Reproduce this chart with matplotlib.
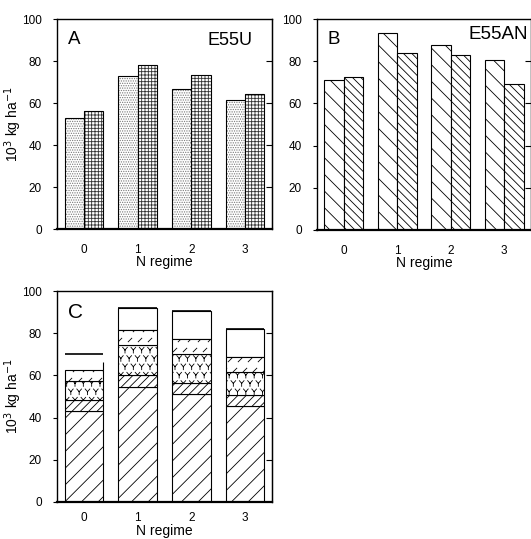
import numpy as np
import matplotlib
matplotlib.use("Agg")
import matplotlib.pyplot as plt
import matplotlib.hatch as mhatch
from matplotlib.path import Path

plt.rcParams['font.family'] = ['Liberation Sans', 'DejaVu Sans']
plt.rcParams['hatch.linewidth'] = 0.6

regimes = ['0', '1', '2', '3']
yticks = [0, 20, 40, 60, 80, 100]

# Panel A (E55U)
a_light = [52.8, 72.9, 66.6, 61.5]
a_dark = [56.3, 78.0, 73.5, 64.2]
# Panel B (E55AN)
b_light = [71.2, 93.2, 87.9, 80.6]
b_dark = [72.3, 83.9, 83.1, 69.4]
# Panel C stacked components (cumulative tops)
c_base = [43.1, 54.5, 51.0, 45.4]
c_dense_top = [48.5, 60.0, 56.6, 50.6]
c_y_top = [57.2, 74.3, 70.0, 61.6]
c_dash_top = [62.7, 81.7, 77.4, 68.7]
c_box_top = [66.4, 92.1, 90.4, 82.2]
c_total = [70.3, 92.1, 90.4, 82.2]


# ---- custom hatch shapes (Y marks and short dashes) ----
class _SegHatch(mhatch.HatchPatternBase):
    char = None
    segs = None
    size = 1.0
    mult = 1.0

    def __init__(self, hatch, density):
        n = int(round(hatch.count(self.char) * density * self.mult / 2.0)) * 2
        self.num_rows = n
        self.positions = []
        if n > 0:
            off = 1.0 / n
            for row in range(n + 1):
                if row % 2 == 0:
                    cols = np.linspace(0, 1, n + 1)
                else:
                    cols = np.linspace(off / 2, 1 - off / 2, n)
                for c in cols:
                    self.positions.append((c, row * off))
        self.num_vertices = len(self.positions) * len(self.segs) * 2

    def set_vertices_and_codes(self, vertices, codes):
        off = 1.0 / self.num_rows
        seg = np.asarray(self.segs, float).reshape(-1, 2) * off * self.size
        pos = np.asarray(self.positions, float)
        v = (seg[None, :, :] + pos[:, None, :]).reshape(-1, 2)
        vertices[:] = v
        codes[:] = np.tile(np.array([Path.MOVETO, Path.LINETO], dtype=Path.code_type),
                           len(v) // 2)


class YHatch(_SegHatch):
    char = '*'
    segs = [[(0, 0), (0, -0.45)], [(0, 0), (-0.35, 0.4)], [(0, 0), (0.35, 0.4)]]
    size = 0.8
    mult = 1.0


class DashHatch(_SegHatch):
    char = 'o'
    segs = [[(-0.18, -0.18), (0.18, 0.18)]]
    size = 1.0
    mult = 1.7


_types = mhatch._hatch_types
for _i, _t in enumerate(_types):
    if _t is mhatch.Stars:
        _types[_i] = YHatch
    elif _t is mhatch.SmallCircles:
        _types[_i] = DashHatch

W, H = 531, 539
fig = plt.figure(figsize=(W / 100, H / 100), dpi=100)


def px_axes(l, t, r, b):
    return fig.add_axes([l / W, 1 - b / H, (r - l) / W, (b - t) / H])


axA = px_axes(57, 19, 272, 229)
axB = px_axes(317, 19, 531, 230)
axC = px_axes(57, 291, 272, 502)

FS = 8.5
LFS = 10


def style(ax, letter, name=None, name_x=0.91, name_y=0.94, letter_fs=13.5,
          name_fs=13, xpad=11, xlabelpad=-1):
    ax.set_xlim(-0.5, 3.5)
    ax.set_ylim(0, 100)
    ax.set_yticks(yticks)
    ax.set_xticks(range(4))
    ax.set_xticklabels(regimes, fontsize=FS)
    ax.tick_params(axis='x', length=0, pad=xpad)
    ax.tick_params(axis='y', direction='out', length=3, labelsize=FS, width=0.8, pad=8)
    ax.set_xlabel('N regime', fontsize=LFS, labelpad=xlabelpad)
    for s in ax.spines.values():
        s.set_linewidth(1.0)
    ax.spines['bottom'].set_linewidth(1.6)
    sec = ax.secondary_yaxis('right')
    sec.set_yticks([20, 40, 60, 80])
    sec.tick_params(direction='in', length=4, labelright=False, width=0.8)
    ax.text(0.05, 0.945, letter, transform=ax.transAxes, fontsize=letter_fs, va='top', ha='left')
    if name:
        ax.text(name_x, name_y, name, transform=ax.transAxes, fontsize=name_fs,
                va='top', ha='right')


x = np.arange(4)
bw = 0.36


def hatched_bar(ax, xs, h, w, hatch, hcolor, bottom=0):
    ax.bar(xs, h, w, bottom=bottom, color='white', edgecolor=hcolor, hatch=hatch, linewidth=0)
    ax.bar(xs, h, w, bottom=bottom, fill=False, edgecolor='black', linewidth=0.8)


YLAB_X = (24 - 57) / 215.0

hatched_bar(axA, x - bw / 2, a_light, bw, '.......', '#7a7a7a')
hatched_bar(axA, x + bw / 2, a_dark, bw, '+++++', '#333333')
style(axA, 'A', 'E55U')
axA.set_ylabel('10$^3$ kg ha$^{-1}$', fontsize=LFS)
axA.yaxis.set_label_coords(YLAB_X, 0.5)

axB.bar(x - bw / 2, b_light, bw, color='white', edgecolor='black', hatch='\\\\', linewidth=0.8)
axB.bar(x + bw / 2, b_dark, bw, color='white', edgecolor='black', hatch='\\\\\\\\', linewidth=0.8)
style(axB, 'B', 'E55AN', name_x=0.985, name_y=0.965, name_fs=13.5)

cw = 0.72
base = np.array(c_base)
dense = np.array(c_dense_top)
ytop = np.array(c_y_top)
dash = np.array(c_dash_top)
boxtop = np.array(c_box_top)
tot = np.array(c_total)
# open box above the patterned stack (bars 1-3 closed, bar 0 only right edge)
axC.bar(x[1:], boxtop[1:] - dash[1:], cw, bottom=dash[1:], color='white',
        edgecolor='black', linewidth=0.8)
axC.vlines(x[0] + cw / 2, dash[0], boxtop[0], color='black', linewidth=0.8)
axC.bar(x, base, cw, color='white', edgecolor='black', hatch='//', linewidth=0.8)
axC.bar(x, dense - base, cw, bottom=base, color='white', edgecolor='black', hatch='////', linewidth=0.8)
axC.bar(x, ytop - dense, cw, bottom=dense, color='white', edgecolor='black', hatch='**', linewidth=0.8)
axC.bar(x, dash - ytop, cw, bottom=ytop, color='white', edgecolor='black', hatch='o', linewidth=0.8)
axC.hlines(tot, x - cw / 2, x + cw / 2, color='black', linewidth=1.2)
style(axC, 'C', letter_fs=15, xpad=7.5, xlabelpad=0)
axC.set_ylabel('10$^3$ kg ha$^{-1}$', fontsize=LFS)
axC.yaxis.set_label_coords(YLAB_X, 0.5)

fig.savefig('out.png', dpi=100)
